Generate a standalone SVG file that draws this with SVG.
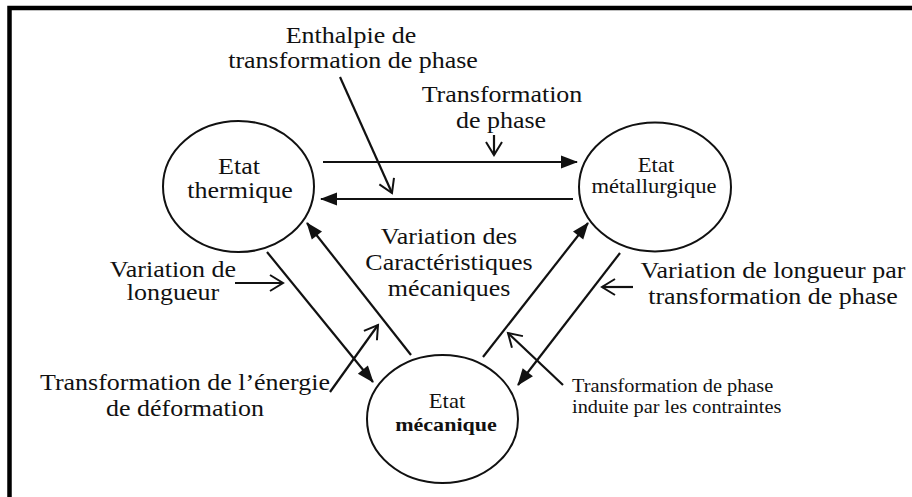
<svg xmlns="http://www.w3.org/2000/svg" width="912" height="497" viewBox="0 0 912 497">
<style>
text{font-family:"Liberation Serif","Times New Roman",serif;fill:#111;text-anchor:middle;font-size:23px}
.s{font-size:20px}
.b{font-size:19.5px;font-weight:bold}
.c{font-size:18px;text-anchor:start}
.node{fill:#fff;stroke:#111;stroke-width:2}
.ln{stroke:#111;stroke-width:2.2;fill:none}
.f{marker-end:url(#fill)}
.o{marker-end:url(#open)}
</style>
<defs>
<marker id="fill" viewBox="-18 -8 20 16" refX="0" refY="0" markerWidth="20" markerHeight="16" markerUnits="userSpaceOnUse" orient="auto" overflow="visible">
<path d="M1,0 L-16,-6.5 L-16,6.5 z" fill="#111"/>
</marker>
<marker id="open" viewBox="-18 -10 20 20" refX="0" refY="0" markerWidth="20" markerHeight="20" markerUnits="userSpaceOnUse" orient="auto" overflow="visible">
<path d="M-13,-8 L0,0 L-13,8" fill="none" stroke="#111" stroke-width="2"/>
</marker>
</defs>
<rect width="912" height="497" fill="#fff"/>
<path d="M9.5,497 V8 H912" fill="none" stroke="#000" stroke-width="4.5"/>

<g id="thermique">
<ellipse class="node" cx="238.5" cy="186.5" rx="75.5" ry="65.5"/>
<text transform="translate(239,174) scale(1.13,1)">Etat</text>
<text transform="translate(240,198) scale(1.13,1)">thermique</text>
</g>
<g id="metallurgique">
<ellipse class="node" cx="655" cy="187" rx="76" ry="64.5"/>
<text class="s" transform="translate(656,172) scale(1.13,1)">Etat</text>
<text class="s" transform="translate(654,193) scale(1.13,1)">métallurgique</text>
</g>
<g id="mecanique">
<ellipse class="node" cx="442.5" cy="419" rx="75.5" ry="64"/>
<text class="s" transform="translate(447,408) scale(1.13,1)">Etat</text>
<text class="b" transform="translate(446,431) scale(1.13,1)">mécanique</text>
</g>

<g id="connectors">
<path class="ln f" d="M323,162 H577"/>
<path class="ln f" d="M573,199 H321"/>
<path class="ln f" d="M411,355 L307,223"/>
<path class="ln f" d="M483,357 L588,223"/>
<path class="ln f" d="M267,252 L373,382"/>
<path class="ln f" d="M620,253 L518,385"/>
<path class="ln o" d="M340,77 L392,193"/>
<path class="ln o" d="M494,135 V155"/>
<path class="ln o" d="M235,283 H283"/>
<path class="ln o" d="M633,287 H602"/>
<path class="ln o" d="M330,392 L378,325"/>
<path class="ln o" d="M563,385 L508,333"/>
</g>

<g id="labels">
<text transform="translate(351,43) scale(1.13,1)">Enthalpie de</text>
<text transform="translate(353,68) scale(1.13,1)">transformation de phase</text>
<text transform="translate(502,102) scale(1.13,1)">Transformation</text>
<text transform="translate(501,128) scale(1.13,1)">de phase</text>
<text transform="translate(449,244) scale(1.13,1)">Variation des</text>
<text transform="translate(449,270) scale(1.13,1)">Caractéristiques</text>
<text transform="translate(449,296) scale(1.13,1)">mécaniques</text>
<text transform="translate(173,277) scale(1.13,1)">Variation de</text>
<text transform="translate(173,300) scale(1.13,1)">longueur</text>
<text transform="translate(773,278) scale(1.13,1)">Variation de longueur par</text>
<text transform="translate(773,304) scale(1.13,1)">transformation de phase</text>
<text transform="translate(185,390) scale(1.13,1)">Transformation de l’énergie</text>
<text transform="translate(185,416) scale(1.13,1)">de déformation</text>
<text class="c" transform="translate(572,392) scale(1.13,1)">Transformation de phase</text>
<text class="c" transform="translate(572,413) scale(1.13,1)">induite par les contraintes</text>
</g>
</svg>
